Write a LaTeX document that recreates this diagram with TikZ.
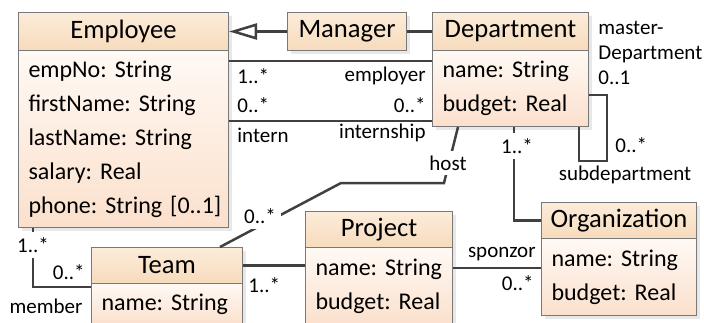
\documentclass[tikz,border=0pt]{standalone}
\usepackage{fontspec}
\setmainfont{Carlito}
\usetikzlibrary{arrows.meta,calc,shadows}
\frenchspacing

\definecolor{headtop}{RGB}{252,236,218}
\definecolor{headbot}{RGB}{247,219,188}
\definecolor{bodytop}{RGB}{255,249,244}
\definecolor{bodybot}{RGB}{251,224,204}
\definecolor{boxline}{RGB}{120,120,120}
\definecolor{assocline}{RGB}{64,64,64}

\newcommand{\titlefont}{\fontsize{13.3}{16}\selectfont}
\newcommand{\attrfont}{\fontsize{12}{17}\selectfont\frenchspacing}
\newcommand{\lblfont}{\fontsize{10.5}{12.5}\selectfont}

\tikzset{
  boxshadow/.style={drop shadow={shadow xshift=1.5pt, shadow yshift=-1.5pt, fill=black!18}},
  classhead/.style={draw=boxline, line width=0.5pt, top color=headtop, bottom color=headbot,
    anchor=north west, inner sep=0pt, font=\titlefont, boxshadow},
  classbody/.style={draw=boxline, line width=0.5pt, top color=bodytop, bottom color=bodybot,
    anchor=north west, inner xsep=5pt, inner ysep=0pt, align=left, font=\attrfont, boxshadow},
  assoc/.style={draw=assocline, line width=1.25pt},
  lbl/.style={font=\lblfont, inner sep=1pt},
  lblgap/.style={lbl, fill=white, inner sep=2.5pt}
}

\begin{document}
\begin{tikzpicture}[x=0.5pt, y=-0.5pt]
\useasboundingbox (0,0) rectangle (704,322);

% classes
\node[classhead, minimum width=105pt, minimum height=19pt] (empH) at (18,12) {Employee};
\node[classbody, text width=95pt, minimum height=88.5pt] (empA) at (18,50)
  {empNo: String\\ firstName: String\\ lastName: String\\ salary: Real\\ \mbox{phone: String [0..1]}};

\node[classhead, minimum width=59.5pt, minimum height=19pt] (mgrH) at (287,12) {Manager};

\node[classhead, minimum width=78pt, minimum height=19pt] (depH) at (432,12) {Department};
\node[classbody, text width=68pt, minimum height=38pt] (depA) at (432,50)
  {name: String\\ budget: Real};

\node[classhead, minimum width=75.5pt, minimum height=18pt] (teamH) at (91,247) {Team};
\node[classbody, text width=65.5pt, minimum height=21pt] (teamA) at (91,283)
  {name: String};

\node[classhead, minimum width=73.5pt, minimum height=18pt] (projH) at (305,211) {Project};
\node[classbody, text width=63.5pt, minimum height=39pt] (projA) at (305,247)
  {name: String\\ budget: Real};

\node[classhead, minimum width=77.5pt, minimum height=18pt] (orgH) at (541,202) {Organization};
\node[classbody, text width=67.5pt, minimum height=38.5pt] (orgA) at (541,238)
  {name: String\\ budget: Real};

% generalization and associations
\draw[assoc, -{Triangle[open, length=14pt, width=8pt, line width=1.25pt]}] (mgrH.west) -- (empH.east);
\draw[assoc] (mgrH.east) -- (depH.west);

\draw[assoc] ($(empA.north east)+(0,11)$) -- ($(depA.north west)+(0,11)$);
\draw[assoc] ($(depA.south west)+(0,-6)$) -- ($(empA.east |- depA.south)+(0,-6)$);

\draw[assoc] ($(teamH.north west)+(129,0)$) -- (341,183) -- (444,183) -- ($(depA.south west)+(26,0)$);
\draw[assoc] ($(depA.south west)+(82,0)$) |- (orgH.west);
\draw[assoc] ($(depA.north east)+(0,45)$) -| (607,161) -| ($(depA.south west)+(147,0)$);

\draw[assoc] ($(empA.south west)+(15,0)$) |- ($(teamA.north west)+(0,4)$);
\draw[assoc] (teamH.east) -- (teamH.east -| projA.west);
\draw[assoc] ($(projA.north east)+(0,21)$) -- ($(orgA.north west)+(0,30)$);

% role names and multiplicities
\node[lbl, anchor=west] (empMul) at (235,76) {1..*};
\node[lbl, anchor=east] (employer) at (428,76) {employer};
\node[lbl, anchor=west] (intMul) at (235,105) {0..*};
\node[lbl, anchor=east] (shipMul) at (428,105) {0..*};
\node[lbl, anchor=west] (intern) at (235,135) {intern};
\node[lbl, anchor=east] (internship) at (428,133) {internship};

\node[lbl, anchor=west, align=left, font=\lblfont] (master) at (596,53) {master-\\ Department\\ 0..1};
\node[lbl, anchor=west] (subMul) at (613,145) {0..*};
\node[lbl] (subdep) at (625,175) {subdepartment};

\node[lblgap] (hostMul) at (260,216) {0..*};
\node[lblgap] (host) at (448,163) {host};
\node[lblgap] (orgMul) at (517,146) {1..*};
\node[lblgap] (memMul) at (33,245) {1..*};

\node[lbl, anchor=east] (teamMul) at (87,272) {0..*};
\node[lbl] (member) at (46,306) {member};
\node[lbl, anchor=west] (projMul) at (246,285) {1..*};
\node[lbl, anchor=east] (sponzor) at (538,254) {sponzor};
\node[lbl, anchor=east] (sponMul) at (536,283) {0..*};
\end{tikzpicture}
\end{document}
